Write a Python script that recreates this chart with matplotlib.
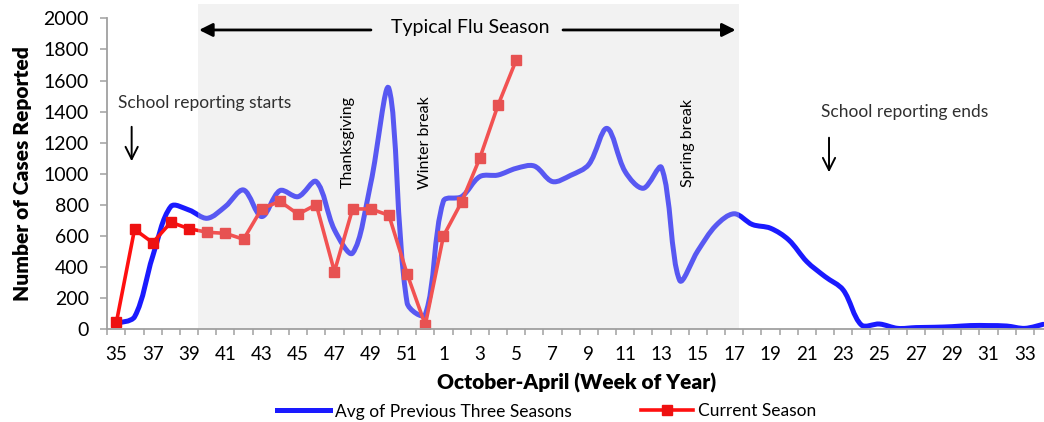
import matplotlib
matplotlib.use("Agg")
import matplotlib.pyplot as plt
from matplotlib.path import Path
from matplotlib.patches import PathPatch, Rectangle
from matplotlib.lines import Line2D
import numpy as np

plt.rcParams['font.family'] = ['Lato', 'DejaVu Sans']

# ---------------- data ----------------
weeks = list(range(35, 53)) + list(range(1, 35))
avg_prev = [40, 80, 470, 790, 767, 714, 790, 896, 725, 892, 853, 950, 640, 490,
            940, 1548, 170, 95, 825, 853, 982, 992, 1035, 1050, 950, 990, 1060,
            1292, 1014, 907, 1040, 315, 505, 668, 743, 674, 650, 575, 435, 339,
            253, 28, 34, 6, 11, 13, 17, 24, 24, 21, 6, 32]
current = [45, 643, 557, 688, 647, 624, 617, 579, 776, 823, 740, 802, 371, 774,
           774, 733, 356, 28, 600, 819, 1100, 1440, 1730]
tick_labels = [str(w) if i % 2 == 0 else '' for i, w in enumerate(weeks)]

BLUE = '#1a1aff'
RED = '#ff1010'

fig = plt.figure(figsize=(10.44, 4.22), dpi=100)
PX_X = 18.17           # pixels per week
PX_Y = 311 / 2000      # pixels per case
ax_w_px = 52 * PX_X
ax = fig.add_axes([107.3 / 1044, 92.7 / 422, ax_w_px / 1044, 311 / 422])
ax.set_xlim(-0.5, 51.5)
ax.set_ylim(0, 2000)

# smoothed blue line (Excel-style Bezier through the weekly values)
x = np.arange(len(avg_prev), dtype=float)
y = np.array(avg_prev, dtype=float)
n = len(x)


def seglen(a, b):
    return np.hypot((x[b] - x[a]) * PX_X, (y[b] - y[a]) * PX_Y)


verts = [(x[0], y[0])]
codes = [Path.MOVETO]
for i in range(n - 1):
    i0, i1, i2, i3 = max(i - 1, 0), i, i + 1, min(i + 2, n - 1)
    p0 = np.array([x[i0], y[i0]])
    p1 = np.array([x[i1], y[i1]])
    p2 = np.array([x[i2], y[i2]])
    p3 = np.array([x[i3], y[i3]])
    d0 = seglen(i0, i1) if i0 != i1 else seglen(i1, i2)
    d1 = seglen(i1, i2)
    d2 = seglen(i2, i3) if i2 != i3 else seglen(i1, i2)
    c1 = p1 + (p2 - p0) * d1 / (d0 + d1) / 3.0 * (1.0 if i0 != i1 else 0.5)
    c2 = p2 - (p3 - p1) * d1 / (d1 + d2) / 3.0 * (1.0 if i2 != i3 else 0.5)
    verts += [tuple(c1), tuple(c2), tuple(p2)]
    codes += [Path.CURVE4] * 3
ax.add_patch(PathPatch(Path(verts, codes), fill=False, edgecolor=BLUE,
                       lw=3.6, capstyle='round', joinstyle='round', zorder=3))

ax.plot(np.arange(len(current)), current, color=RED, lw=2.6, marker='s',
        markersize=7.5, markerfacecolor='#ee1111', markeredgecolor='#ee1111',
        zorder=4)

# typical flu season shading (drawn over the lines, translucent)
ax.add_patch(Rectangle((4.5, 0), 34.27 - 4.5, 2090, facecolor='#d9d9d9',
                       edgecolor='none', alpha=0.33, zorder=5, clip_on=False))

# axes styling
for s in ['top', 'right']:
    ax.spines[s].set_visible(False)
for s in ['left', 'bottom']:
    ax.spines[s].set_color('#a0a0a0')
    ax.spines[s].set_linewidth(1.3)
ax.spines['bottom'].set_zorder(6)

ax.set_yticks(np.arange(0, 2001, 200))
ax.tick_params(axis='y', direction='out', length=5.3, width=1.1, color='#a0a0a0',
               labelsize=14, pad=8, labelcolor='black')
ax.set_xticks(np.arange(len(weeks)))
ax.set_xticklabels(tick_labels)
ax.set_xticks(np.arange(len(weeks) + 1) - 0.5, minor=True)
ax.tick_params(axis='x', which='major', length=0, labelsize=13.5, pad=12)
ax.tick_params(axis='x', which='minor', direction='out', length=4.3, width=1.1,
               color='#a0a0a0')

ax.set_ylabel('Number of Cases Reported', fontsize=15, fontweight='heavy')
ax.yaxis.set_label_coords((32 - 107.3) / ax_w_px, 0.5)
ax.set_xlabel('October-April (Week of Year)', fontsize=15, fontweight='heavy')
ax.xaxis.set_label_coords((576.5 - 107.3) / ax_w_px, (329.3 - 373) / 311)

# annotations
txt = dict(fontsize=12.5, color='#303030')
ax.text(0.09, 1455, 'School reporting starts', ha='left', va='center',
        zorder=7, **txt)
ax.annotate('', xy=(0.84, 1063), xytext=(0.84, 1320),
            arrowprops=dict(arrowstyle='->', lw=1.4, color='black',
                            mutation_scale=22), zorder=7)
ax.text(38.76, 1397, 'School reporting ends', ha='left', va='center',
        zorder=7, **txt)
ax.annotate('', xy=(39.22, 992), xytext=(39.22, 1250),
            arrowprops=dict(arrowstyle='->', lw=1.4, color='black',
                            mutation_scale=22), zorder=7)
ax.text(19.46, 1944, 'Typical Flu Season', ha='center', va='center',
        fontsize=14, color='black', zorder=7)
ax.annotate('', xy=(4.55, 1925), xytext=(14.01, 1925),
            arrowprops=dict(arrowstyle='-|>', lw=2, color='black',
                            mutation_scale=20, shrinkA=0, shrinkB=0),
            annotation_clip=False, zorder=7)
ax.annotate('', xy=(34.08, 1925), xytext=(24.58, 1925),
            arrowprops=dict(arrowstyle='-|>', lw=2, color='black',
                            mutation_scale=20, shrinkA=0, shrinkB=0),
            annotation_clip=False, zorder=7)
rot = dict(rotation=90, ha='center', va='center', fontsize=11.5, color='black',
           zorder=7)
ax.text(12.73, 1205, 'Thanksgiving', **rot)
ax.text(16.98, 1198, 'Winter break', **rot)
ax.text(31.46, 1195, 'Spring break', **rot)

# legend
handles = [Line2D([], [], color=BLUE, lw=3.6),
           Line2D([], [], color=RED, lw=2.6, marker='s', markersize=7.5,
                  markerfacecolor='#ee1111', markeredgecolor='#ee1111')]
fig.legend(handles, ['Avg of Previous Three Seasons', 'Current Season'],
           loc='center', bbox_to_anchor=(547 / 1044, 10.5 / 422), ncol=2,
           frameon=False, fontsize=12.5, handlelength=3.0, handletextpad=0.3,
           columnspacing=4.0, borderpad=0, borderaxespad=0)

fig.savefig('out.png', dpi=100)
